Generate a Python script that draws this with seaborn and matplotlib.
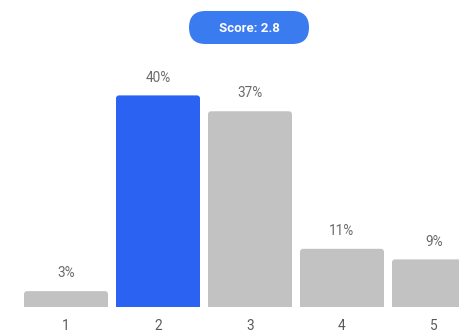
import matplotlib
matplotlib.use("Agg")
import matplotlib.pyplot as plt
from matplotlib.patches import FancyBboxPatch
from matplotlib.transforms import IdentityTransform
import seaborn as sns
import pandas as pd

# Rating distribution
ratings = ["1", "2", "3", "4", "5"]
shares = [3, 40, 37, 11, 9]
highlight = "2"
score_label = "Score: 2.8"

GREY = "#C2C2C2"
BLUE = "#2B62F1"
BADGE = "#3A7BF0"

sns.set_theme(style="white")
plt.rcParams["font.family"] = ["Roboto", "DejaVu Sans"]

W, H, DPI = 460, 333, 100
fig = plt.figure(figsize=(W / DPI, H / DPI), dpi=DPI)
fig.patch.set_facecolor("white")

base_px = 26
ax = fig.add_axes([0, base_px / H, 1, (H - base_px) / H])

df = pd.DataFrame({"rating": ratings, "share": shares})
palette = {r: (BLUE if r == highlight else GREY) for r in ratings}
sns.barplot(data=df, x="rating", y="share", hue="rating", palette=palette,
            width=0.913, saturation=1, legend=False, ax=ax)

px_per_x = 92.0
px_per_pct = 5.29
ax.set_xlim(-66 / px_per_x, (W - 66) / px_per_x)
ax.set_ylim(0, (H - base_px) / px_per_pct)

# Round the top corners of each bar
r = 3.0 / px_per_x
aspect = (1 / px_per_pct) / (1 / px_per_x)
for bar in list(ax.patches):
    x, y = bar.get_x(), bar.get_y()
    w, h = bar.get_width(), bar.get_height()
    fc = bar.get_facecolor()
    bar.set_visible(False)
    rounded = FancyBboxPatch((x, y - 2), w, h + 2,
                             boxstyle=f"round,pad=0,rounding_size={r}",
                             mutation_aspect=aspect, facecolor=fc,
                             edgecolor="none", clip_on=True)
    ax.add_patch(rounded)

for i, v in enumerate(shares):
    ax.annotate(f"{v}%", (i, v), xytext=(0, 10), textcoords="offset points",
                ha="center", va="baseline", fontsize=9.8, color="#6b6b6b")

ax.set_xlabel("")
ax.set_ylabel("")
ax.set_yticks([])
ax.set_xticks(range(len(ratings)))
ax.set_xticklabels(ratings, fontsize=9.8, color="#5a5a5a")
ax.tick_params(axis="x", length=0, pad=9)
for s in ax.spines.values():
    s.set_visible(False)

# Score badge
badge = FancyBboxPatch((189, H - 44), 120, 33,
                       boxstyle="round,pad=0,rounding_size=16.5",
                       facecolor=BADGE, edgecolor="none",
                       transform=IdentityTransform())
fig.add_artist(badge)
fig.text(249 / W, 1 - 28 / H, score_label, ha="center", va="center",
         fontsize=9.5, fontweight="bold", color="white")

fig.savefig("out.png", dpi=DPI)
